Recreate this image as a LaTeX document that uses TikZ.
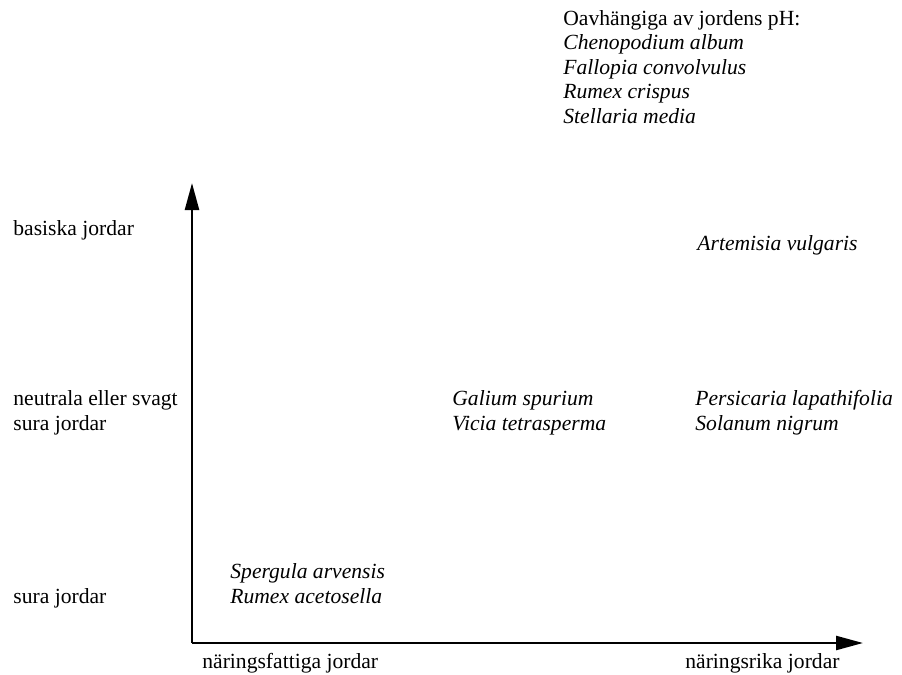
\documentclass[tikz,border=0pt]{standalone}
\usepackage{fontspec}
\setmainfont{Liberation Serif}
\usetikzlibrary{arrows.meta}
\begin{document}
\begin{tikzpicture}[x=0.5pt,y=-0.5pt,
	axis/.style={line width=1.2pt,-{Triangle[length=13.5pt,width=7pt]}},
	lbl/.style={anchor=base west,inner sep=0pt,align=left,font=\fontsize{10.8}{12.2}\selectfont},
	art/.style={lbl,font=\fontsize{10.8}{12.2}\selectfont\itshape}]
	\useasboundingbox (0,0) rectangle (902,675);
	
	% axlar
	\coordinate (origo) at (192,643);
	\coordinate (ytopp) at (192,183);
	\coordinate (xslut) at (863,643);
	\draw[axis] (origo) -- (ytopp);
	\draw[axis] (origo) -- (xslut);
	
	% jordar (flerradiga noder: baslinjen ligger på sista raden)
	\node[lbl] (basisk) at (13,235) {basiska jordar};
	\node[lbl] (neutral) at (13,430) {neutrala eller svagt\\sura jordar};
	\node[lbl] (sur) at (13,603) {sura jordar};
	\node[lbl] (fattig) at (202,668) {näringsfattiga jordar};
	\node[lbl] (rik) at (685,668) {näringsrika jordar};
	
	% arter
	\node[lbl] (oavh) at (563,123) {Oavhängiga av jordens pH:\\
		\textit{Chenopodium album}\\
		\textit{Fallopia convolvulus}\\
		\textit{Rumex crispus}\\
		\textit{Stellaria media}};
	\node[art] (artemisia) at (697,250) {Artemisia vulgaris};
	\node[art] (galium) at (452,430) {Galium spurium\\Vicia tetrasperma};
	\node[art] (persicaria) at (695,430) {Persicaria lapathifolia\\Solanum nigrum};
	\node[art] (spergula) at (230,603) {Spergula arvensis\\Rumex acetosella};
\end{tikzpicture}
\end{document}
